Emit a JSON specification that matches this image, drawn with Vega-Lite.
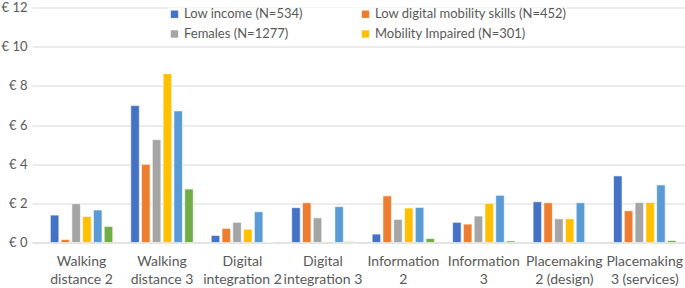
{
  "$schema": "https://vega.github.io/schema/vega-lite/v6.json",
  "width": 653,
  "height": 235,
  "autosize": {"type": "none"},
  "padding": {"left": 32, "top": 7.5, "right": 0, "bottom": 45.5},
  "background": "white",
  "config": {"view": {"stroke": null}, "font": "Lato"},
  "data": {
    "values": [
      {"category": "Walking distance 2", "series": "Low income (N=534)", "value": 1.40},
      {"category": "Walking distance 2", "series": "Low digital mobility skills (N=452)", "value": 0.15},
      {"category": "Walking distance 2", "series": "Females (N=1277)", "value": 1.98},
      {"category": "Walking distance 2", "series": "Mobility Impaired (N=301)", "value": 1.33},
      {"category": "Walking distance 2", "series": "Series 5", "value": 1.66},
      {"category": "Walking distance 2", "series": "Series 6", "value": 0.82},
      {"category": "Walking distance 3", "series": "Low income (N=534)", "value": 6.99},
      {"category": "Walking distance 3", "series": "Low digital mobility skills (N=452)", "value": 3.99},
      {"category": "Walking distance 3", "series": "Females (N=1277)", "value": 5.25},
      {"category": "Walking distance 3", "series": "Mobility Impaired (N=301)", "value": 8.62},
      {"category": "Walking distance 3", "series": "Series 5", "value": 6.72},
      {"category": "Walking distance 3", "series": "Series 6", "value": 2.73},
      {"category": "Digital integration 2", "series": "Low income (N=534)", "value": 0.36},
      {"category": "Digital integration 2", "series": "Low digital mobility skills (N=452)", "value": 0.72},
      {"category": "Digital integration 2", "series": "Females (N=1277)", "value": 1.03},
      {"category": "Digital integration 2", "series": "Mobility Impaired (N=301)", "value": 0.68},
      {"category": "Digital integration 2", "series": "Series 5", "value": 1.57},
      {"category": "Digital integration 2", "series": "Series 6", "value": 0.02},
      {"category": "Digital integration 3", "series": "Low income (N=534)", "value": 1.78},
      {"category": "Digital integration 3", "series": "Low digital mobility skills (N=452)", "value": 2.03},
      {"category": "Digital integration 3", "series": "Females (N=1277)", "value": 1.26},
      {"category": "Digital integration 3", "series": "Series 5", "value": 1.83},
      {"category": "Digital integration 3", "series": "Series 6", "value": 0.04},
      {"category": "Information 2", "series": "Low income (N=534)", "value": 0.43},
      {"category": "Information 2", "series": "Low digital mobility skills (N=452)", "value": 2.38},
      {"category": "Information 2", "series": "Females (N=1277)", "value": 1.18},
      {"category": "Information 2", "series": "Mobility Impaired (N=301)", "value": 1.76},
      {"category": "Information 2", "series": "Series 5", "value": 1.79},
      {"category": "Information 2", "series": "Series 6", "value": 0.2},
      {"category": "Information 3", "series": "Low income (N=534)", "value": 1.03},
      {"category": "Information 3", "series": "Low digital mobility skills (N=452)", "value": 0.94},
      {"category": "Information 3", "series": "Females (N=1277)", "value": 1.35},
      {"category": "Information 3", "series": "Mobility Impaired (N=301)", "value": 2.0},
      {"category": "Information 3", "series": "Series 5", "value": 2.41},
      {"category": "Information 3", "series": "Series 6", "value": 0.08},
      {"category": "Placemaking 2 (design)", "series": "Low income (N=534)", "value": 2.08},
      {"category": "Placemaking 2 (design)", "series": "Low digital mobility skills (N=452)", "value": 2.03},
      {"category": "Placemaking 2 (design)", "series": "Females (N=1277)", "value": 1.21},
      {"category": "Placemaking 2 (design)", "series": "Mobility Impaired (N=301)", "value": 1.21},
      {"category": "Placemaking 2 (design)", "series": "Series 5", "value": 2.03},
      {"category": "Placemaking 3 (services)", "series": "Low income (N=534)", "value": 3.40},
      {"category": "Placemaking 3 (services)", "series": "Low digital mobility skills (N=452)", "value": 1.62},
      {"category": "Placemaking 3 (services)", "series": "Females (N=1277)", "value": 2.04},
      {"category": "Placemaking 3 (services)", "series": "Mobility Impaired (N=301)", "value": 2.04},
      {"category": "Placemaking 3 (services)", "series": "Series 5", "value": 2.94},
      {"category": "Placemaking 3 (services)", "series": "Series 6", "value": 0.1}
    ]
  },
  "mark": {"type": "bar", "stroke": "white", "strokeWidth": 0.6},
  "encoding": {
    "x": {
      "field": "category",
      "type": "nominal",
      "sort": null,
      "scale": {"paddingInner": 0.224, "paddingOuter": 0.17, "align": 0.67},
      "axis": {
        "title": null,
        "labelAngle": 0,
        "labelFontSize": 14,
        "labelColor": "#595959",
        "labelPadding": 12,
        "labelLineHeight": 18,
        "labelBaseline": "top",
        "labelLimit": 200,
        "ticks": false,
        "domainColor": "#d9d9d9",
        "domainWidth": 1,
        "labelExpr": "[substring(datum.label, 0, indexof(datum.label, ' ')), substring(datum.label, indexof(datum.label, ' ') + 1)]"
      }
    },
    "xOffset": {
      "field": "series",
      "type": "nominal",
      "sort": null,
      "scale": {
        "domain": ["Low income (N=534)", "Low digital mobility skills (N=452)", "Females (N=1277)", "Mobility Impaired (N=301)", "Series 5", "Series 6"],
        "paddingInner": 0.21
      }
    },
    "y": {
      "field": "value",
      "type": "quantitative",
      "scale": {"domain": [0, 12], "nice": false},
      "axis": {
        "title": null,
        "values": [0, 2, 4, 6, 8, 10, 12],
        "labelExpr": "'€ ' + datum.value",
        "labelFontSize": 13,
        "labelColor": "#595959",
        "labelPadding": 5,
        "ticks": false,
        "domain": false,
        "gridColor": "#d9d9d9",
        "gridWidth": 1
      }
    },
    "color": {
      "field": "series",
      "type": "nominal",
      "scale": {
        "domain": ["Low income (N=534)", "Low digital mobility skills (N=452)", "Females (N=1277)", "Mobility Impaired (N=301)", "Series 5", "Series 6"],
        "range": ["#4472C4", "#ED7D31", "#A5A5A5", "#FFC000", "#5B9BD5", "#70AD47"]
      },
      "legend": {
        "values": ["Low income (N=534)", "Low digital mobility skills (N=452)", "Females (N=1277)", "Mobility Impaired (N=301)"],
        "orient": "none",
        "legendX": 136,
        "legendY": 0,
        "direction": "horizontal",
        "columns": 2,
        "columnPadding": 56,
        "rowPadding": 6,
        "title": null,
        "symbolType": "square",
        "symbolSize": 55,
        "symbolStrokeWidth": 0,
        "symbolOffset": 0,
        "labelFontSize": 13,
        "labelLimit": 300,
        "labelColor": "#595959",
        "labelOffset": 3,
        "fillColor": "white"
      }
    }
  }
}
